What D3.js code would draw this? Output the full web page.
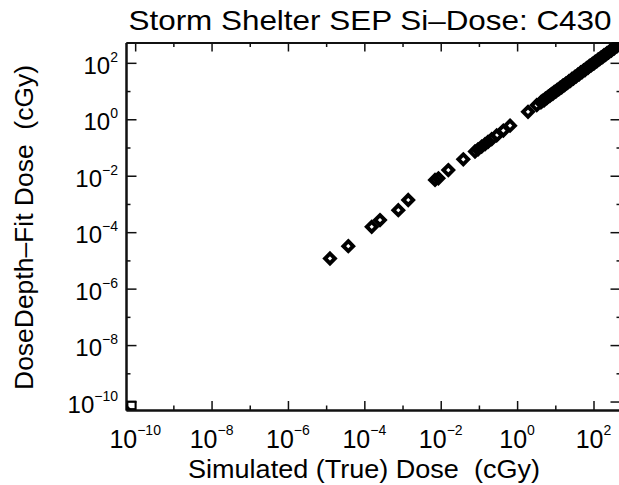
<!DOCTYPE html>
<html><head><meta charset="utf-8">
<script src="https://cdn.jsdelivr.net/npm/d3@7/dist/d3.min.js"></script>
<style>
html,body{margin:0;padding:0;background:#fff;}
svg{display:block;}
text{font-family:"Liberation Sans",Arial,sans-serif;fill:#000;}
</style></head>
<body>
<svg id="chart" width="619" height="485"></svg>
<script>
// ---- data (cGy) ----
const simulatedDose = [
  1.26e-5, 3.8e-5, 1.56e-4, 2.57e-4, 7.76e-4, 1.41e-3, 7.1e-3, 8.7e-3, 1.58e-2, 3.9e-2,
  0.079, 0.095, 0.118, 0.145, 0.173, 0.216, 0.292, 0.436, 0.652, 1.93, 3.26,
  4.2, 4.6, 5.1, 5.5, 6.0, 6.6, 7.2, 7.9, 8.6, 9.4, 10.3, 11.2, 12.3, 13.4, 14.7, 16.0,
  17.5, 19.1, 20.9, 22.8, 24.9, 27.2, 29.7, 32.4, 35.4, 38.7, 42.2, 46.1, 50.4, 55.0,
  60.1, 65.6, 71.7, 78.3, 85.5, 93.4, 102, 111, 122, 133, 145, 159, 173, 189, 207, 226,
  247, 270, 294, 321, 351, 383, 418, 457, 499, 545
];
const fitDose = [
  1.17e-5, 3.2e-5, 1.55e-4, 2.69e-4, 6.0e-4, 1.38e-3, 7.1e-3, 8.1e-3, 1.58e-2, 3.8e-2,
  0.072, 0.086, 0.108, 0.131, 0.158, 0.197, 0.268, 0.398, 0.595, 1.84, 3.16,
  4.0, 4.5, 4.7, 5.4, 5.6, 6.5, 6.8, 7.8, 8.0, 9.3, 9.6, 11.0, 11.4, 13.1, 13.6, 15.9,
  16.2, 18.8, 19.5, 22.3, 23.0, 26.8, 27.5, 31.9, 33.0, 38.0, 39.1, 45.4, 46.5, 54.1,
  55.6, 64.5, 66.4, 77.0, 79.4, 91.8, 94.5, 109, 113, 131, 135, 156, 161, 186, 192, 222,
  229, 265, 273, 316, 326, 377, 388, 450, 463, 536
];
const xDomain = [Math.pow(10, -10.24), Math.pow(10, 2.72)];
const yDomain = [Math.pow(10, -10.30), Math.pow(10, 2.72)];
const majorTicks = [1e-10, 1e-8, 1e-6, 1e-4, 1e-2, 1, 1e2];
const minorTicks = [1e-9, 1e-7, 1e-5, 1e-3, 1e-1, 1e1];
const tickExponents = ["\u221210", "\u22128", "\u22126", "\u22124", "\u22122", "0", "2"];
const titleText = "Storm Shelter SEP Si\u2013Dose: C430";
const xTitleText = "Simulated (True) Dose\u00a0\u00a0(cGy)";
const yTitleText = "DoseDepth\u2013Fit Dose\u00a0\u00a0(cGy)";

// ---- layout ----
const L = 126, R = 621, T = 42.5, B = 410;
const svg = d3.select("#chart");
const x = d3.scaleLog().domain(xDomain).range([L, R]);
const y = d3.scaleLog().domain(yDomain).range([B, T]);

svg.append("defs").append("clipPath").attr("id", "plotclip")
  .append("rect").attr("x", L).attr("y", T).attr("width", R - L).attr("height", B - T);

function styleAxis(g) {
  g.select(".domain").attr("stroke", "#111").attr("stroke-width", 2);
  g.selectAll(".tick line").attr("stroke", "#111").attr("stroke-width", 1.5);
  g.selectAll(".tick text").remove();
}
function addAxis(gen, tx, ty, vals, size) {
  const g = svg.append("g").attr("transform", `translate(${tx},${ty})`)
    .call(gen.tickValues(vals).tickSize(size).tickSizeOuter(0).tickFormat(() => ""));
  styleAxis(g);
  return g;
}
// bottom
addAxis(d3.axisBottom(x), 0, B, majorTicks, -9);
addAxis(d3.axisBottom(x), 0, B, minorTicks, -4.5);
// top
addAxis(d3.axisTop(x), 0, T, majorTicks, -9);
addAxis(d3.axisTop(x), 0, T, minorTicks, -4.5);
// left
addAxis(d3.axisLeft(y), L, 0, majorTicks, -10.5);
addAxis(d3.axisLeft(y), L, 0, minorTicks, -4.5);
// right
addAxis(d3.axisRight(y), R, 0, majorTicks, -10.5);
addAxis(d3.axisRight(y), R, 0, minorTicks, -4.5);

// tick labels
const xl = svg.append("g");
majorTicks.forEach((v, i) => {
  const t = xl.append("text").attr("x", x(v)).attr("y", 448).attr("text-anchor", "middle");
  t.append("tspan").attr("font-size", 25).text("10");
  t.append("tspan").attr("font-size", 14).attr("dy", -13).text(tickExponents[i]);
});
const yl = svg.append("g");
majorTicks.forEach((v, i) => {
  const t = yl.append("text").attr("x", 118).attr("y", y(v) + 11).attr("text-anchor", "end");
  t.append("tspan").attr("font-size", 24).text("10");
  t.append("tspan").attr("font-size", 14).attr("dy", -12).text(tickExponents[i]);
});

// points
const pts = simulatedDose.map((d, i) => ({ sim: d, fit: fitDose[i] }));
const h = 4.9;
svg.append("g").attr("clip-path", "url(#plotclip)")
  .selectAll("path").data(pts).join("path")
  .attr("d", d => `M${x(d.sim)},${y(d.fit) - h}L${x(d.sim) + h},${y(d.fit)}L${x(d.sim)},${y(d.fit) + h}L${x(d.sim) - h},${y(d.fit)}Z`)
  .attr("fill", "none").attr("stroke", "#000").attr("stroke-width", 3.9)
  .attr("stroke-linejoin", "miter");

// zero-dose point at the axis corner
const cx = x(xDomain[0]), cy = y(yDomain[0]);
const zg = svg.append("g");
zg.append("rect").attr("x", cx + 1.5).attr("y", cy - 8.5).attr("width", 8).attr("height", 7.5)
  .attr("fill", "none").attr("stroke", "#000").attr("stroke-width", 1.8);
zg.append("path").attr("d", `M${cx},${cy - 6}L${cx + 6},${cy}L${cx},${cy}Z`).attr("fill", "#000");

// titles
svg.append("text").attr("x", 370).attr("y", 30).attr("text-anchor", "middle")
  .attr("font-size", 28).attr("textLength", 483).attr("lengthAdjust", "spacingAndGlyphs")
  .text(titleText);
svg.append("text").attr("x", 364).attr("y", 478).attr("text-anchor", "middle")
  .attr("font-size", 25).attr("textLength", 352).attr("lengthAdjust", "spacingAndGlyphs")
  .text(xTitleText);
svg.append("text").attr("transform", "translate(33,227.5) rotate(-90)").attr("text-anchor", "middle")
  .attr("font-size", 25).attr("textLength", 325).attr("lengthAdjust", "spacingAndGlyphs")
  .text(yTitleText);
</script>
</body></html>
